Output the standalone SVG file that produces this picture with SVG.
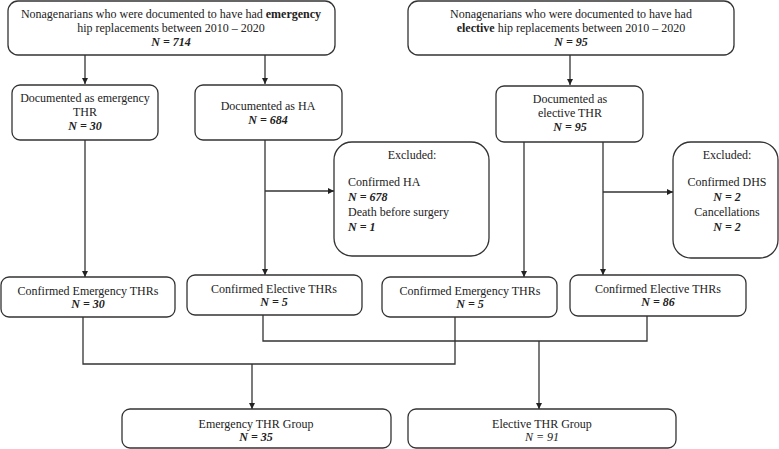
<svg xmlns="http://www.w3.org/2000/svg" width="779" height="449" viewBox="0 0 779 449">
<defs>
<marker id="ah" viewBox="0 0 10 10" refX="10" refY="5" markerWidth="6" markerHeight="6" markerUnits="userSpaceOnUse" orient="auto">
<path d="M0,0 L10,5 L0,10 z" fill="#222"/>
</marker>
<style>
.box{fill:#fff;stroke:#333;stroke-width:1.3}
.t{font-family:"Liberation Serif","Times New Roman",serif;font-size:12px;fill:#222;text-anchor:middle}
.l{text-anchor:start}
.n{font-style:italic;font-weight:bold}
.ni{font-style:italic}
.b{font-weight:bold}
.c{fill:none;stroke:#333;stroke-width:1.3}
</style>
</defs>
<rect width="779" height="449" fill="#fff"/>
<g id="connectors">
<line class="c" x1="85" y1="55" x2="85" y2="84" marker-end="url(#ah)"/>
<line class="c" x1="265" y1="55" x2="265" y2="84" marker-end="url(#ah)"/>
<line class="c" x1="570" y1="55" x2="570" y2="85" marker-end="url(#ah)"/>
<line class="c" x1="85" y1="140" x2="85" y2="277" marker-end="url(#ah)"/>
<line class="c" x1="265" y1="140" x2="265" y2="275" marker-end="url(#ah)"/>
<line class="c" x1="265" y1="191" x2="334" y2="191" marker-end="url(#ah)"/>
<line class="c" x1="524" y1="142" x2="524" y2="277" marker-end="url(#ah)"/>
<line class="c" x1="603" y1="142" x2="603" y2="275" marker-end="url(#ah)"/>
<line class="c" x1="603" y1="192" x2="673" y2="192" marker-end="url(#ah)"/>
<polyline class="c" points="83,317 83,364 455,364 455,317"/>
<line class="c" x1="252" y1="364" x2="252" y2="409" marker-end="url(#ah)"/>
<polyline class="c" points="263,315 263,341 647,341 647,316"/>
<line class="c" x1="539" y1="341" x2="539" y2="409" marker-end="url(#ah)"/>
</g>
<g id="emergency-total">
<rect class="box" x="8" y="1" width="327" height="54" rx="10"/>
<text class="t" x="171" y="18">Nonagenarians who were documented to have had <tspan class="b">emergency</tspan></text>
<text class="t" x="171" y="32">hip replacements between 2010 – 2020</text>
<text class="t n" x="171" y="46">N = 714</text>
</g>
<g id="elective-total">
<rect class="box" x="408" y="1" width="326" height="54" rx="10"/>
<text class="t" x="571" y="18">Nonagenarians who were documented to have had</text>
<text class="t" x="571" y="32"><tspan class="b">elective</tspan> hip replacements between 2010 – 2020</text>
<text class="t n" x="571" y="46">N = 95</text>
</g>
<g id="doc-emergency-thr">
<rect class="box" x="12" y="85" width="146" height="55" rx="8"/>
<text class="t" x="85" y="102">Documented as emergency</text>
<text class="t" x="85" y="116">THR</text>
<text class="t n" x="85" y="130">N = 30</text>
</g>
<g id="doc-ha">
<rect class="box" x="195" y="85" width="147" height="55" rx="8"/>
<text class="t" x="268" y="110">Documented as HA</text>
<text class="t n" x="268" y="124">N = 684</text>
</g>
<g id="doc-elective-thr">
<rect class="box" x="496" y="86" width="147" height="56" rx="8"/>
<text class="t" x="570" y="103">Documented as</text>
<text class="t" x="570" y="117">elective THR</text>
<text class="t n" x="570" y="131">N = 95</text>
</g>
<g id="excluded-ha">
<rect class="box" x="334" y="142" width="155" height="114" rx="18"/>
<text class="t" x="412" y="159">Excluded:</text>
<text class="t l" x="348" y="186">Confirmed HA</text>
<text class="t l n" x="348" y="201">N = 678</text>
<text class="t l" x="348" y="216">Death before surgery</text>
<text class="t l n" x="348" y="231">N = 1</text>
</g>
<g id="excluded-elective">
<rect class="box" x="673" y="142" width="105" height="116" rx="18"/>
<text class="t" x="727" y="159">Excluded:</text>
<text class="t" x="727" y="186">Confirmed DHS</text>
<text class="t n" x="727" y="201">N = 2</text>
<text class="t" x="727" y="216">Cancellations</text>
<text class="t n" x="727" y="231">N = 2</text>
</g>
<g id="conf-emergency-30">
<rect class="box" x="1" y="277" width="174" height="40" rx="8"/>
<text class="t" x="88" y="295">Confirmed Emergency THRs</text>
<text class="t n" x="88" y="308">N = 30</text>
</g>
<g id="conf-elective-5">
<rect class="box" x="187" y="275" width="175" height="40" rx="8"/>
<text class="t" x="274" y="293">Confirmed Elective THRs</text>
<text class="t n" x="274" y="306">N = 5</text>
</g>
<g id="conf-emergency-5">
<rect class="box" x="382" y="277" width="175" height="40" rx="8"/>
<text class="t" x="470" y="295">Confirmed Emergency THRs</text>
<text class="t n" x="470" y="308">N = 5</text>
</g>
<g id="conf-elective-86">
<rect class="box" x="570" y="275" width="176" height="41" rx="8"/>
<text class="t" x="658" y="293">Confirmed Elective THRs</text>
<text class="t n" x="658" y="306">N = 86</text>
</g>
<g id="emergency-group">
<rect class="box" x="122" y="409" width="269" height="39" rx="8"/>
<text class="t" x="256" y="428">Emergency THR Group</text>
<text class="t n" x="256" y="441">N = 35</text>
</g>
<g id="elective-group">
<rect class="box" x="408" y="409" width="268" height="39" rx="8"/>
<text class="t" x="542" y="428">Elective THR Group</text>
<text class="t ni" x="542" y="441">N = 91</text>
</g>
</svg>
